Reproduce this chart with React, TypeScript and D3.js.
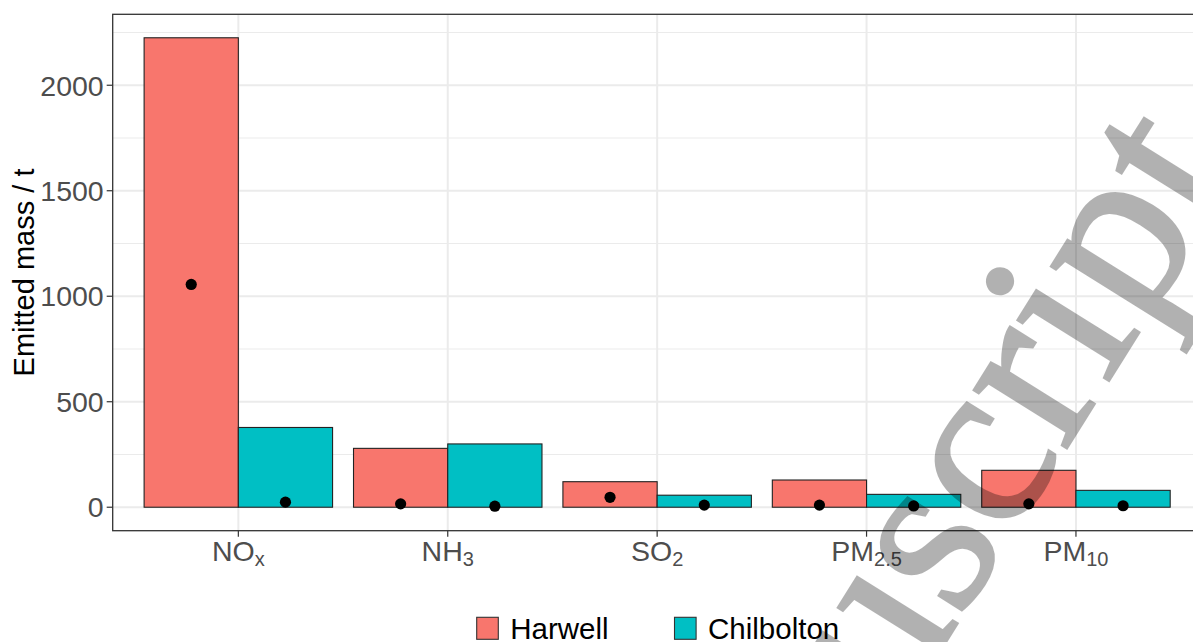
import React, { useEffect, useRef } from 'react';
import * as d3 from 'd3';

// data
const pollutants = ['NOx', 'NH3', 'SO2', 'PM2.5', 'PM10'];
const labelMain = ['NO', 'NH', 'SO', 'PM', 'PM'];
const labelSub = ['x', '3', '2', '2.5', '10'];
const sites = ['Harwell', 'Chilbolton'];
const harwellMass = [2225, 279, 121, 129, 175];
const chilboltonMass = [378, 300, 57, 61, 80];
const harwellPoint = [1056, 16, 47, 10, 16];
const chilboltonPoint = [24, 5, 10, 6, 7];
const siteColors = ['#F8766D', '#00BFC4'];
const yTicks = [0, 500, 1000, 1500, 2000];
const yMinor = [250, 750, 1250, 1750, 2250];

const W = 1193;
const H = 642;
const panel = { left: 112.7, top: 14.3, bottom: 530.7, right: 1201.6 };

const App = () => {
  const ref = useRef<SVGSVGElement>(null);

  useEffect(() => {
    const svg = d3.select(ref.current);
    svg.selectAll('*').remove();

    const x = d3.scaleBand<string>()
      .domain(pollutants)
      .range([panel.left, panel.right])
      .paddingInner(0)
      .paddingOuter(0.1);
    const step = x.step();
    const dodge = d3.scaleBand<string>()
      .domain(sites)
      .range([-0.45 * step, 0.45 * step]);

    const maxV = d3.max(harwellMass.concat(chilboltonMass)) as number;
    const y = d3.scaleLinear()
      .domain([-0.05 * maxV, maxV * 1.05])
      .range([panel.bottom, panel.top]);

    const cx = (p: string) => (x(p) as number) + x.bandwidth() / 2;

    const rows = pollutants.flatMap((p, i) => [
      { p, site: 'Harwell', mass: harwellMass[i], pt: harwellPoint[i], c: siteColors[0] },
      { p, site: 'Chilbolton', mass: chilboltonMass[i], pt: chilboltonPoint[i], c: siteColors[1] },
    ]);

    const fontSans = '"Liberation Sans", Arial, sans-serif';

    // grid
    const grid = svg.append('g');
    grid.selectAll('line.minor')
      .data(yMinor).enter()
      .append('line')
      .attr('x1', panel.left).attr('x2', panel.right)
      .attr('y1', d => y(d)).attr('y2', d => y(d))
      .attr('stroke', '#ebebeb').attr('stroke-width', 1.1);
    grid.selectAll('line.major')
      .data(yTicks).enter()
      .append('line')
      .attr('x1', panel.left).attr('x2', panel.right)
      .attr('y1', d => y(d)).attr('y2', d => y(d))
      .attr('stroke', '#ebebeb').attr('stroke-width', 2);
    grid.selectAll('line.vmajor')
      .data(pollutants).enter()
      .append('line')
      .attr('x1', d => cx(d)).attr('x2', d => cx(d))
      .attr('y1', panel.top).attr('y2', panel.bottom)
      .attr('stroke', '#ebebeb').attr('stroke-width', 2);

    // bars
    svg.append('g').selectAll('rect')
      .data(rows).enter()
      .append('rect')
      .attr('x', d => cx(d.p) + (dodge(d.site) as number))
      .attr('width', dodge.bandwidth())
      .attr('y', d => y(d.mass))
      .attr('height', d => y(0) - y(d.mass))
      .attr('fill', d => d.c)
      .attr('stroke', '#222')
      .attr('stroke-width', 1.1);

    // points
    svg.append('g').selectAll('circle')
      .data(rows).enter()
      .append('circle')
      .attr('cx', d => cx(d.p) + (dodge(d.site) as number) + dodge.bandwidth() / 2)
      .attr('cy', d => y(d.pt))
      .attr('r', 5.6)
      .attr('fill', '#000');

    // panel border
    svg.append('rect')
      .attr('x', panel.left).attr('y', panel.top)
      .attr('width', panel.right - panel.left)
      .attr('height', panel.bottom - panel.top)
      .attr('fill', 'none').attr('stroke', '#333').attr('stroke-width', 1.3);

    // y axis
    const yAxis = svg.append('g');
    yAxis.selectAll('line')
      .data(yTicks).enter()
      .append('line')
      .attr('x1', panel.left - 6).attr('x2', panel.left)
      .attr('y1', d => y(d)).attr('y2', d => y(d))
      .attr('stroke', '#333').attr('stroke-width', 1.2);
    yAxis.selectAll('text')
      .data(yTicks).enter()
      .append('text')
      .attr('x', panel.left - 9)
      .attr('y', d => y(d))
      .attr('dy', '0.36em')
      .attr('text-anchor', 'end')
      .attr('font-family', fontSans)
      .attr('font-size', 28.5)
      .attr('fill', '#4d4d4d')
      .text(d => d);

    svg.append('text')
      .attr('transform', `translate(34, ${(panel.top + panel.bottom) / 2}) rotate(-90)`)
      .attr('text-anchor', 'middle')
      .attr('font-family', fontSans)
      .attr('font-size', 29)
      .attr('fill', '#000')
      .text('Emitted mass / t');

    // x axis
    const xAxis = svg.append('g');
    xAxis.selectAll('line')
      .data(pollutants).enter()
      .append('line')
      .attr('x1', d => cx(d)).attr('x2', d => cx(d))
      .attr('y1', panel.bottom).attr('y2', panel.bottom + 6)
      .attr('stroke', '#333').attr('stroke-width', 1.2);
    const xt = xAxis.selectAll('text')
      .data(pollutants).enter()
      .append('text')
      .attr('x', d => cx(d))
      .attr('y', 561)
      .attr('text-anchor', 'middle')
      .attr('font-family', fontSans)
      .attr('font-size', 28.5)
      .attr('fill', '#4d4d4d');
    xt.append('tspan').text((d, i) => labelMain[i]);
    xt.append('tspan')
      .attr('font-size', 20)
      .attr('dy', 5)
      .text((d, i) => labelSub[i]);

    // legend
    const legend = svg.append('g');
    const legX = [476.7, 674.5];
    sites.forEach((s, i) => {
      legend.append('rect')
        .attr('x', legX[i]).attr('y', 617.3)
        .attr('width', 21.6).attr('height', 22)
        .attr('fill', siteColors[i])
        .attr('stroke', '#333').attr('stroke-width', 1.1);
      legend.append('text')
        .attr('x', legX[i] + 33.5)
        .attr('y', 639)
        .attr('font-family', fontSans)
        .attr('font-size', 29.5)
        .attr('fill', '#000')
        .text(s);
    });

    // watermark
    svg.append('g')
      .attr('opacity', 0.3)
      .append('text')
      .attr('transform', 'translate(665, 1091) rotate(-58)')
      .attr('font-family', '"Liberation Serif", "Times New Roman", serif')
      .attr('font-size', 238)
      .attr('fill', '#000')
      .attr('stroke', '#000')
      .attr('stroke-width', 3)
      .text('Manuscript');
  }, []);

  return (
    <svg
      ref={ref}
      width={W}
      height={H}
      style={{ position: 'absolute', left: 0, top: 0, background: '#fff' }}
    />
  );
};

export default App;
